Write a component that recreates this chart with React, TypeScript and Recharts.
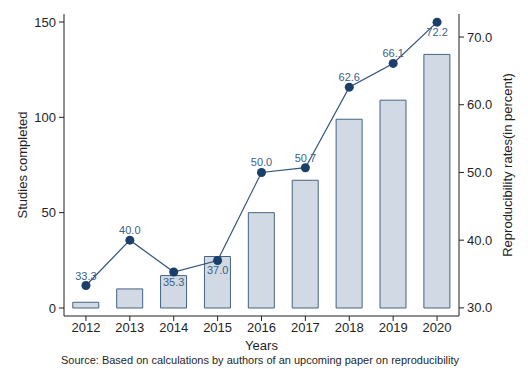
import { ComposedChart, Bar, Line, XAxis, YAxis, LabelList } from 'recharts';

// values
const years = ['2012', '2013', '2014', '2015', '2016', '2017', '2018', '2019', '2020'];
const studiesCompleted = [3, 10, 17, 27, 50, 67, 99, 109, 133];
const reproRates = [33.3, 40.0, 35.3, 37.0, 50.0, 50.7, 62.6, 66.1, 72.2];
const leftTicks = [0, 50, 100, 150];
const rightTicks = [30, 40, 50, 60, 70];
// years whose rate label sits under the marker
const labelBelowYears = ['2014', '2015', '2020'];

const data = years.map((year, i) => ({
    year,
    studies: studiesCompleted[i],
    rate: reproRates[i],
}));

const FONT = '"Liberation Sans", Arial, sans-serif';
const INK = '#1f1f1f';
const NAVY = '#1a3f6b';

const RateLabel = (props: any) => {
    const { x, y, value, index } = props;
    const below = labelBelowYears.includes(years[index]);
    return (
        <text
            x={x}
            y={below ? y + 10 : y - 10}
            textAnchor="middle"
            dominantBaseline="central"
            fontSize={11}
            fontFamily={FONT}
            fill="#3d5f88"
        >
            {Number(value).toFixed(1)}
        </text>
    );
};

export default function App() {
    const tickStyle = { fontSize: 13, fontFamily: FONT, fill: INK };
    return (
        <div style={{ position: 'absolute', left: 0, top: 0, width: 528, height: 384, background: '#fff' }}>
            <ComposedChart
                width={528}
                height={384}
                data={data}
                margin={{ top: 14, right: 0, left: 0, bottom: 0 }}
                barCategoryGap="20%"
            >
                <XAxis
                    dataKey="year"
                    height={68}
                    tick={tickStyle}
                    tickSize={5}
                    tickMargin={2}
                    stroke={INK}
                    label={(p: any) => {
                        const vb = p.viewBox;
                        return (
                            <text
                                x={vb.x + vb.width / 2}
                                y={vb.y + 29}
                                textAnchor="middle"
                                dominantBaseline="central"
                                fontSize={13}
                                fontFamily={FONT}
                                fill={INK}
                            >
                                Years
                            </text>
                        );
                    }}
                />
                <YAxis
                    yAxisId="left"
                    orientation="left"
                    width={64}
                    domain={[-4.2, 154.2]}
                    ticks={leftTicks}
                    allowDataOverflow
                    tick={tickStyle}
                    tickSize={5}
                    tickMargin={3}
                    stroke={INK}
                    label={(p: any) => {
                        const vb = p.viewBox;
                        const cy = vb.y + vb.height / 2;
                        return (
                            <text
                                x={22}
                                y={cy}
                                transform={`rotate(-90, 22, ${cy})`}
                                textAnchor="middle"
                                dominantBaseline="central"
                                fontSize={13}
                                fontFamily={FONT}
                                fill={INK}
                            >
                                Studies completed
                            </text>
                        );
                    }}
                />
                <YAxis
                    yAxisId="right"
                    orientation="right"
                    width={69}
                    domain={[28.8, 73.4]}
                    ticks={rightTicks}
                    allowDataOverflow
                    tickFormatter={(v: number) => v.toFixed(1)}
                    tick={tickStyle}
                    tickSize={5}
                    tickMargin={3}
                    stroke={INK}
                    label={(p: any) => {
                        const vb = p.viewBox;
                        const cy = vb.y + vb.height / 2;
                        return (
                            <text
                                x={507}
                                y={cy}
                                transform={`rotate(-90, 507, ${cy})`}
                                textAnchor="middle"
                                dominantBaseline="central"
                                fontSize={13}
                                fontFamily={FONT}
                                fill={INK}
                            >
                                Reproducibility rates(in percent)
                            </text>
                        );
                    }}
                />
                <Bar
                    yAxisId="left"
                    dataKey="studies"
                    fill="#d1dae4"
                    stroke="#46627f"
                    strokeWidth={1}
                    isAnimationActive={false}
                />
                <Line
                    yAxisId="right"
                    dataKey="rate"
                    type="linear"
                    stroke="#34527a"
                    strokeWidth={1.2}
                    dot={{ r: 4.5, fill: NAVY, stroke: NAVY, strokeWidth: 0 }}
                    activeDot={false}
                    isAnimationActive={false}
                >
                    <LabelList dataKey="rate" content={RateLabel} />
                </Line>
            </ComposedChart>
            <div
                style={{
                    position: 'absolute',
                    left: 0,
                    width: 520,
                    top: 354,
                    textAlign: 'center',
                    fontFamily: FONT,
                    fontSize: 11,
                    color: INK,
                    whiteSpace: 'nowrap',
                }}
            >
                Source: Based on calculations by authors of an upcoming paper on reproducibility
            </div>
        </div>
    );
}
